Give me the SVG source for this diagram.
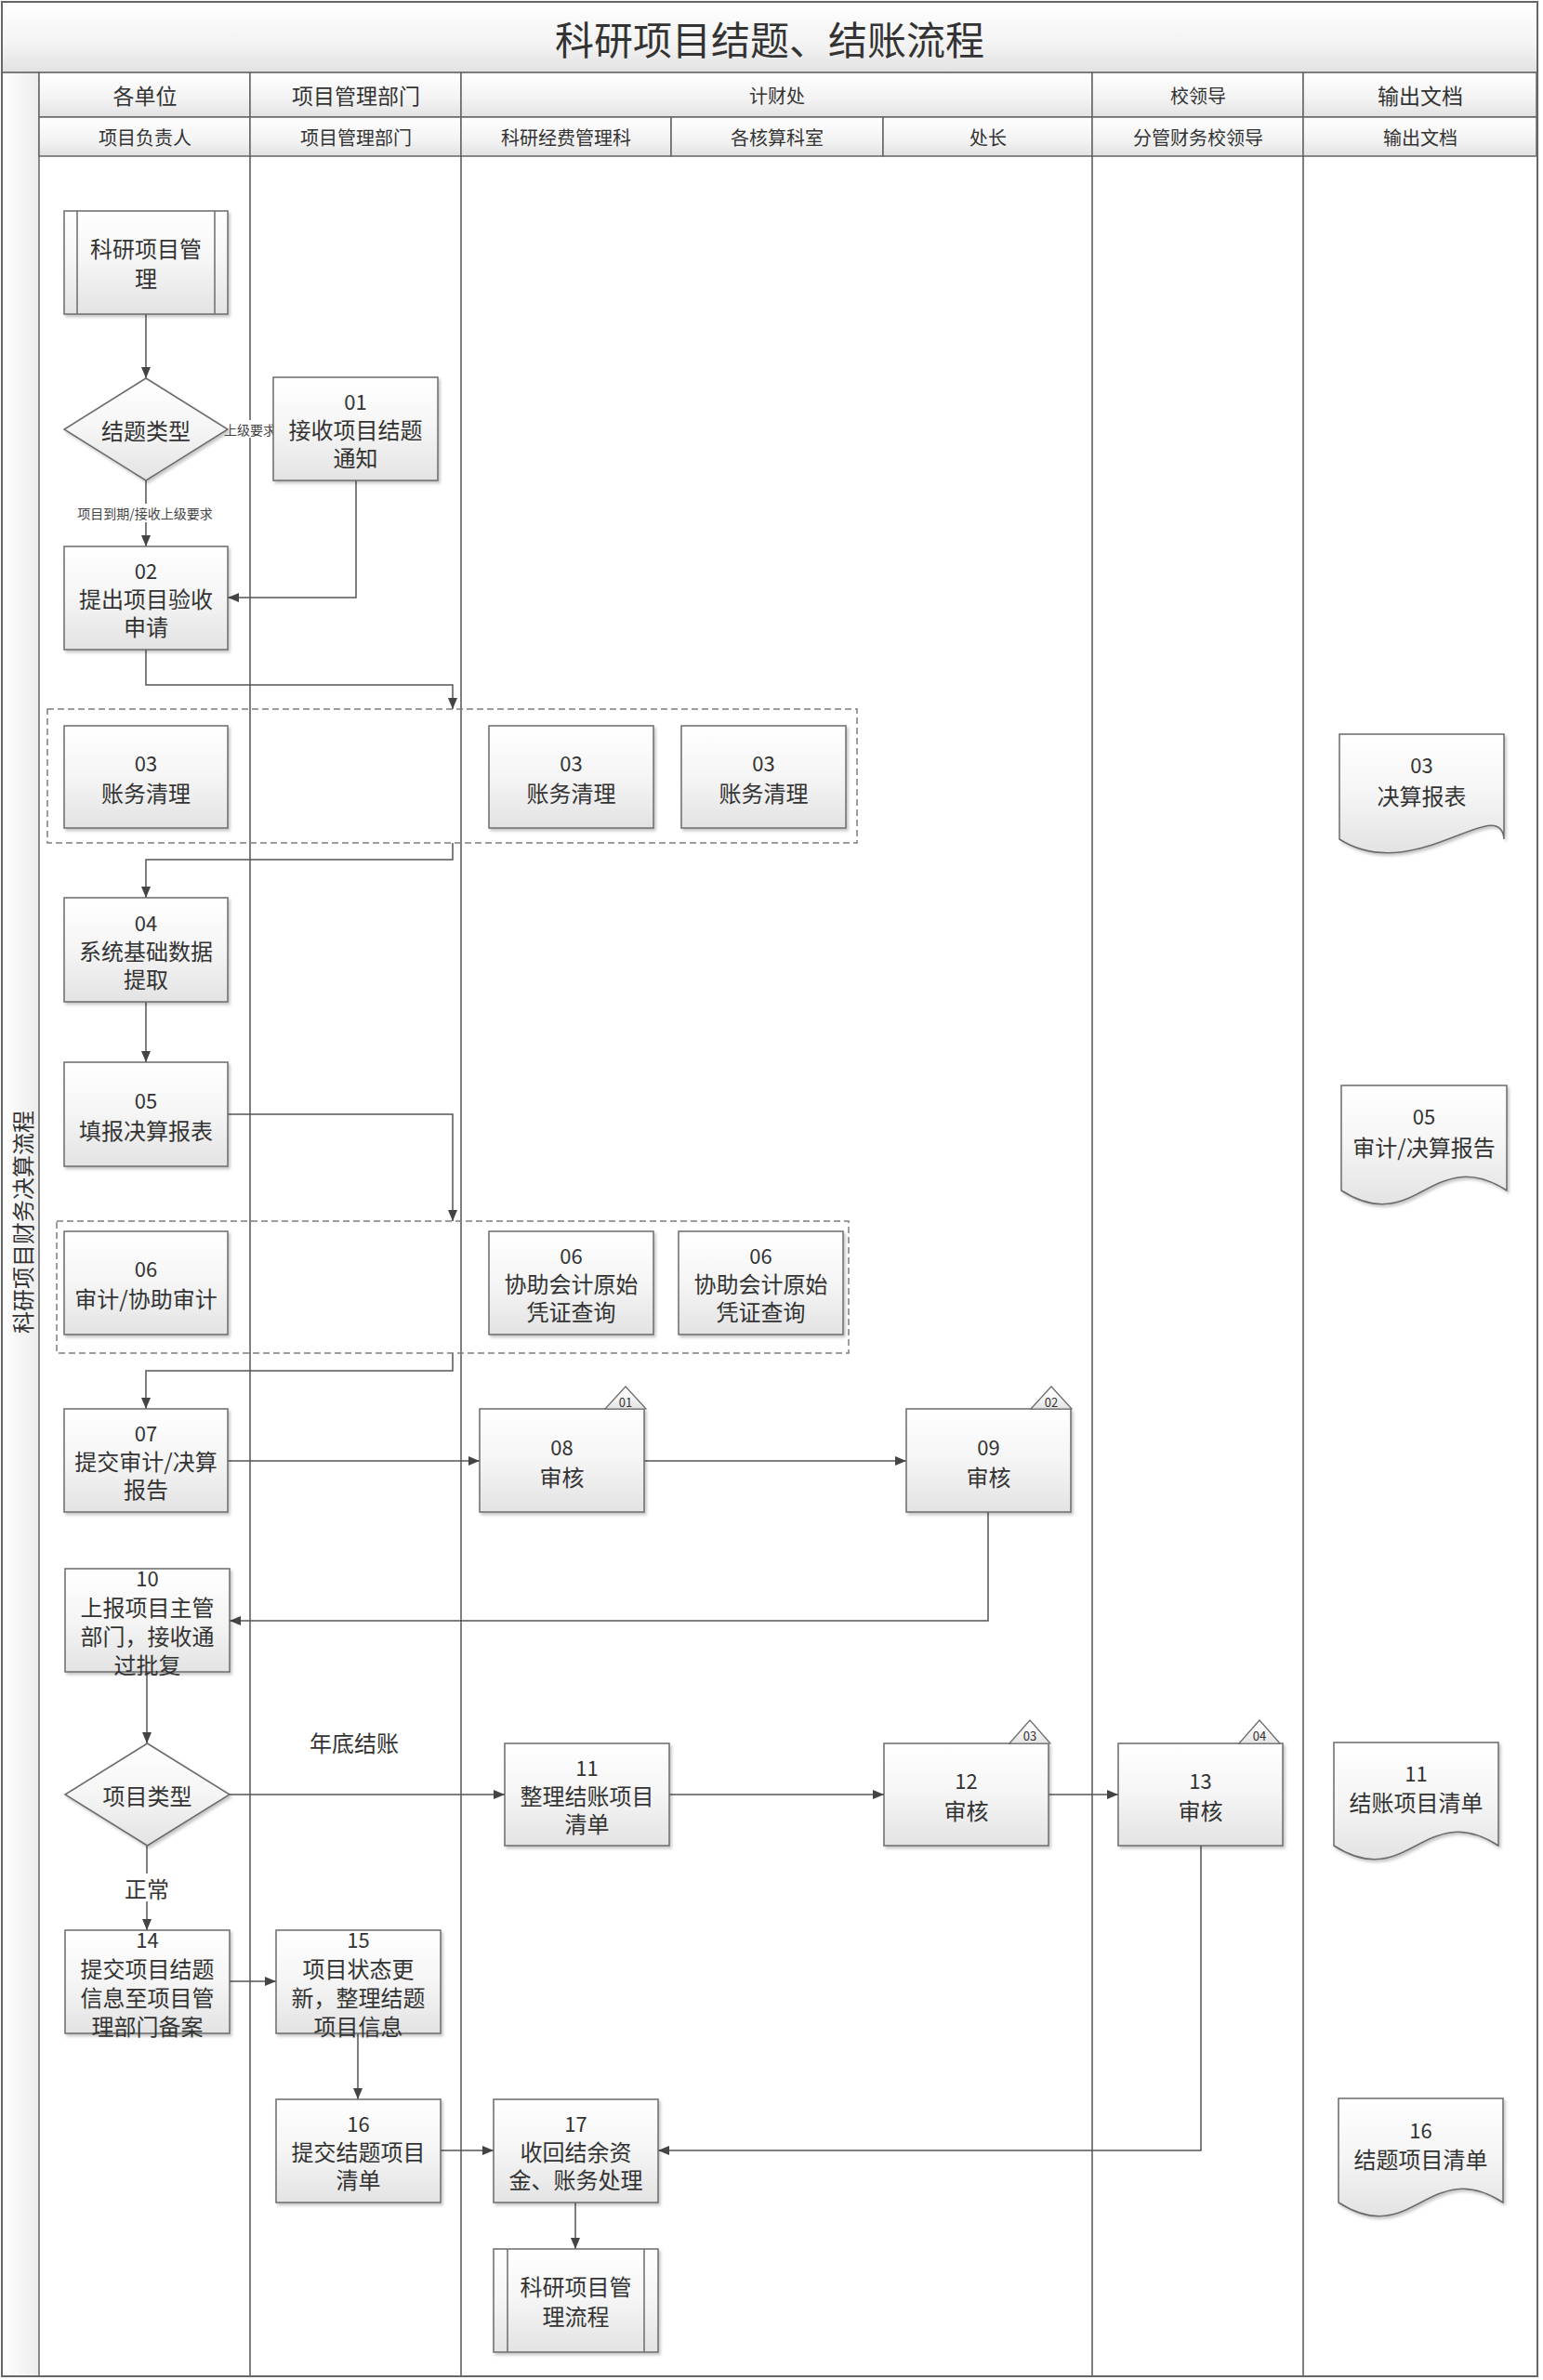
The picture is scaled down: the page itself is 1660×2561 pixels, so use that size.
<svg xmlns="http://www.w3.org/2000/svg" width="1660" height="2561" viewBox="0 0 1660 2561">
<defs>
<linearGradient id="gBox" x1="0" y1="0" x2="0" y2="1">
<stop offset="0" stop-color="#ffffff"/><stop offset="0.5" stop-color="#f5f5f5"/><stop offset="1" stop-color="#e3e3e3"/>
</linearGradient>
<linearGradient id="gHdr" x1="0" y1="0" x2="0" y2="1">
<stop offset="0" stop-color="#ffffff"/><stop offset="0.6" stop-color="#f3f3f3"/><stop offset="1" stop-color="#e2e2e2"/>
</linearGradient>
<linearGradient id="gBand" x1="0" y1="0" x2="1" y2="0">
<stop offset="0" stop-color="#ffffff"/><stop offset="1" stop-color="#ececec"/>
</linearGradient>
<filter id="sh" x="-10%" y="-10%" width="130%" height="130%">
<feDropShadow dx="2" dy="2.5" stdDeviation="1.5" flood-color="#000" flood-opacity="0.22"/>
</filter>
<marker id="arr" viewBox="0 0 12 10" refX="12" refY="5" markerWidth="12" markerHeight="10" markerUnits="userSpaceOnUse" orient="auto">
<path d="M0,0 L12,5 L0,10 z" fill="#444"/>
</marker>
<style>
.box{fill:url(#gBox);stroke:#6b6b6b;stroke-width:1.5;filter:url(#sh);}
.hdr{fill:url(#gHdr);stroke:#666;stroke-width:1.5;}
.t{font-family:"Noto Sans CJK SC","Noto Sans",sans-serif;font-size:24px;fill:#333;text-anchor:middle;dominant-baseline:central;}
.num{font-size:22px;}
.h1{font-size:23px;}
.h1s{font-size:20px;}
.h2{font-size:20px;}
.small{font-size:14px;fill:#444;}
.tag{font-size:13px;}
.conn{fill:none;stroke:#555;stroke-width:1.5;marker-end:url(#arr);}
.plain{fill:none;stroke:#555;stroke-width:1.5;}
.lane{stroke:#555;stroke-width:1.5;fill:none;}
.dash{fill:none;stroke:#7d7d7d;stroke-width:1.5;stroke-dasharray:7 4;}
.inner{stroke:#6b6b6b;stroke-width:1.5;}
.tri{fill:url(#gBox);stroke:#6b6b6b;stroke-width:1.2;}
</style>
</defs>

<rect x="0" y="0" width="1660" height="2561" fill="#ffffff"/>

<g id="frame">
<rect x="2" y="2" width="1652" height="76" class="hdr"/>
<text class="t" x="828" y="40" style="font-size:42px">科研项目结题、结账流程</text>
<rect x="2" y="78" width="40" height="2479" fill="url(#gBand)" stroke="#666" stroke-width="1.5"/>
<text class="t" transform="translate(23,1315) rotate(-90)" x="0" y="0">科研项目财务决算流程</text>
<rect x="42" y="78" width="227" height="48" class="hdr"/>
<rect x="269" y="78" width="227" height="48" class="hdr"/>
<rect x="496" y="78" width="679" height="48" class="hdr"/>
<rect x="1175" y="78" width="227" height="48" class="hdr"/>
<rect x="1402" y="78" width="251" height="48" class="hdr"/>
<text class="t h1" x="156" y="102">各单位</text>
<text class="t h1" x="383" y="102">项目管理部门</text>
<text class="t h1s" x="836" y="102">计财处</text>
<text class="t h1s" x="1289" y="102">校领导</text>
<text class="t h1" x="1528" y="102">输出文档</text>
<rect x="42" y="126" width="227" height="42" class="hdr"/>
<rect x="269" y="126" width="227" height="42" class="hdr"/>
<rect x="496" y="126" width="226" height="42" class="hdr"/>
<rect x="722" y="126" width="228" height="42" class="hdr"/>
<rect x="950" y="126" width="225" height="42" class="hdr"/>
<rect x="1175" y="126" width="227" height="42" class="hdr"/>
<rect x="1402" y="126" width="251" height="42" class="hdr"/>
<text class="t h2" x="156" y="147">项目负责人</text>
<text class="t h2" x="383" y="147">项目管理部门</text>
<text class="t h2" x="609" y="147">科研经费管理科</text>
<text class="t h2" x="836" y="147">各核算科室</text>
<text class="t h2" x="1063" y="147">处长</text>
<text class="t h2" x="1289" y="147">分管财务校领导</text>
<text class="t h2" x="1528" y="147">输出文档</text>
<line class="lane" x1="269" y1="168" x2="269" y2="2557"/>
<line class="lane" x1="496" y1="168" x2="496" y2="2557"/>
<line class="lane" x1="1175" y1="168" x2="1175" y2="2557"/>
<line class="lane" x1="1402" y1="168" x2="1402" y2="2557"/>
<rect x="2" y="2" width="1652" height="2555" fill="none" stroke="#666" stroke-width="2"/>
</g>

<g id="connectors">
<path class="conn" d="M157,338 V407"/>
<path class="conn" d="M157,517 V588"/>
<path class="plain" d="M245,462 H294"/>
<path class="conn" d="M383,517 V643 H245"/>
<path class="conn" d="M157,699 V737 H487 V763"/>
<path class="conn" d="M487,907 V925 H157 V966"/>
<path class="conn" d="M157,1078 V1143"/>
<path class="conn" d="M245,1199 H487 V1314"/>
<path class="conn" d="M487,1456 V1475 H157 V1516"/>
<path class="conn" d="M245,1572 H516"/>
<path class="conn" d="M693,1572 H975"/>
<path class="conn" d="M1063,1627 V1744 H247"/>
<path class="conn" d="M158,1799 V1876"/>
<path class="conn" d="M247,1931 H543"/>
<path class="conn" d="M720,1931 H951"/>
<path class="conn" d="M1128,1931 H1203"/>
<path class="conn" d="M1292,1986 V2314 H708"/>
<path class="conn" d="M158,1986 V2077"/>
<path class="conn" d="M247,2132 H297"/>
<path class="conn" d="M385,2188 V2259"/>
<path class="conn" d="M474,2314 H531"/>
<path class="conn" d="M619,2370 V2420"/>
<rect x="242" y="452" width="54" height="19" fill="#fff"/>
<text class="t small" x="269" y="462">上级要求</text>
<rect x="82" y="542" width="149" height="20" fill="#fff"/>
<text class="t small" x="156" y="552">项目到期/接收上级要求</text>
<text class="t" x="381" y="1874">年底结账</text>
<rect x="133" y="2016" width="50" height="30" fill="#fff"/>
<text class="t" x="158" y="2031">正常</text>
</g>

<g id="n_sub1">
<rect class="box" x="69" y="227" width="176" height="111"/>
<line class="inner" x1="83" y1="227" x2="83" y2="338"/><line class="inner" x1="231" y1="227" x2="231" y2="338"/>
<text class="t" x="157" y="266">科研项目管</text><text class="t" x="157" y="298">理</text>
</g>
<g id="n_dec1">
<polygon class="box" points="157,407 245,462 157,517 69,462"/>
<text class="t" x="157" y="462">结题类型</text>
</g>
<g id="n01">
<rect class="box" x="294" y="406" width="177" height="111"/>
<text class="t num" x="382.5" y="431">01</text><text class="t" x="382.5" y="461">接收项目结题</text><text class="t" x="382.5" y="491">通知</text>
</g>
<g id="n02">
<rect class="box" x="69" y="588" width="176" height="111"/>
<text class="t num" x="157" y="613">02</text><text class="t" x="157" y="643">提出项目验收</text><text class="t" x="157" y="673">申请</text>
</g>

<g id="g03">
<rect class="dash" x="51" y="763" width="871" height="144"/>
</g>
<g id="n03a">
<rect class="box" x="69" y="781" width="176" height="110"/>
<text class="t num" x="157" y="820">03</text><text class="t" x="157" y="852">账务清理</text>
</g>
<g id="n03b">
<rect class="box" x="526" y="781" width="177" height="110"/>
<text class="t num" x="614.5" y="820">03</text><text class="t" x="614.5" y="852">账务清理</text>
</g>
<g id="n03c">
<rect class="box" x="733" y="781" width="177" height="110"/>
<text class="t num" x="821.5" y="820">03</text><text class="t" x="821.5" y="852">账务清理</text>
</g>

<g id="n04">
<rect class="box" x="69" y="966" width="176" height="112"/>
<text class="t num" x="157" y="992">04</text><text class="t" x="157" y="1022">系统基础数据</text><text class="t" x="157" y="1052">提取</text>
</g>
<g id="n05">
<rect class="box" x="69" y="1143" width="176" height="112"/>
<text class="t num" x="157" y="1183">05</text><text class="t" x="157" y="1215">填报决算报表</text>
</g>

<g id="g06">
<rect class="dash" x="61" y="1314" width="852" height="142"/>
</g>
<g id="n06a">
<rect class="box" x="69" y="1325" width="176" height="111"/>
<text class="t num" x="157" y="1364">06</text><text class="t" x="157" y="1396">审计/协助审计</text>
</g>
<g id="n06b">
<rect class="box" x="526" y="1325" width="177" height="111"/>
<text class="t num" x="614.5" y="1350">06</text><text class="t" x="614.5" y="1380">协助会计原始</text><text class="t" x="614.5" y="1410">凭证查询</text>
</g>
<g id="n06c">
<rect class="box" x="730" y="1325" width="177" height="111"/>
<text class="t num" x="818.5" y="1350">06</text><text class="t" x="818.5" y="1380">协助会计原始</text><text class="t" x="818.5" y="1410">凭证查询</text>
</g>

<g id="n07">
<rect class="box" x="69" y="1516" width="176" height="111"/>
<text class="t num" x="157" y="1541">07</text><text class="t" x="157" y="1571">提交审计/决算</text><text class="t" x="157" y="1601">报告</text>
</g>
<g id="n08">
<rect class="box" x="516" y="1516" width="177" height="111"/>
<polygon class="tri" points="651,1516 673,1492 695,1516"/>
<text class="t tag" x="673" y="1508">01</text>
<text class="t num" x="604.5" y="1556">08</text><text class="t" x="604.5" y="1588">审核</text>
</g>
<g id="n09">
<rect class="box" x="975" y="1516" width="177" height="111"/>
<polygon class="tri" points="1109,1516 1131,1492 1153,1516"/>
<text class="t tag" x="1131" y="1508">02</text>
<text class="t num" x="1063.5" y="1556">09</text><text class="t" x="1063.5" y="1588">审核</text>
</g>

<g id="n10">
<rect class="box" x="70" y="1688" width="177" height="111"/>
<text class="t num" x="158.5" y="1697">10</text><text class="t" x="158.5" y="1728">上报项目主管</text><text class="t" x="158.5" y="1759">部门，接收通</text><text class="t" x="158.5" y="1790">过批复</text>
</g>
<g id="n_dec2">
<polygon class="box" points="158.5,1876 247,1931 158.5,1986 70,1931"/>
<text class="t" x="158.5" y="1931">项目类型</text>
</g>
<g id="n11">
<rect class="box" x="543" y="1876" width="177" height="110"/>
<text class="t num" x="631.5" y="1901">11</text><text class="t" x="631.5" y="1931">整理结账项目</text><text class="t" x="631.5" y="1961">清单</text>
</g>
<g id="n12">
<rect class="box" x="951" y="1876" width="177" height="110"/>
<polygon class="tri" points="1086,1876 1108,1851 1130,1876"/>
<text class="t tag" x="1108" y="1867">03</text>
<text class="t num" x="1039.5" y="1915">12</text><text class="t" x="1039.5" y="1947">审核</text>
</g>
<g id="n13">
<rect class="box" x="1203" y="1876" width="177" height="110"/>
<polygon class="tri" points="1333,1876 1355,1851 1377,1876"/>
<text class="t tag" x="1355" y="1867">04</text>
<text class="t num" x="1291.5" y="1915">13</text><text class="t" x="1291.5" y="1947">审核</text>
</g>

<g id="n14">
<rect class="box" x="70" y="2077" width="177" height="111"/>
<text class="t num" x="158.5" y="2086">14</text><text class="t" x="158.5" y="2117">提交项目结题</text><text class="t" x="158.5" y="2148">信息至项目管</text><text class="t" x="158.5" y="2179">理部门备案</text>
</g>
<g id="n15">
<rect class="box" x="297" y="2077" width="177" height="111"/>
<text class="t num" x="385.5" y="2086">15</text><text class="t" x="385.5" y="2117">项目状态更</text><text class="t" x="385.5" y="2148">新，整理结题</text><text class="t" x="385.5" y="2179">项目信息</text>
</g>
<g id="n16">
<rect class="box" x="297" y="2259" width="177" height="111"/>
<text class="t num" x="385.5" y="2284">16</text><text class="t" x="385.5" y="2314">提交结题项目</text><text class="t" x="385.5" y="2344">清单</text>
</g>
<g id="n17">
<rect class="box" x="531" y="2259" width="177" height="111"/>
<text class="t num" x="619.5" y="2284">17</text><text class="t" x="619.5" y="2314">收回结余资</text><text class="t" x="619.5" y="2344">金、账务处理</text>
</g>
<g id="n_sub2">
<rect class="box" x="531" y="2420" width="177" height="111"/>
<line class="inner" x1="546" y1="2420" x2="546" y2="2531"/><line class="inner" x1="693" y1="2420" x2="693" y2="2531"/>
<text class="t" x="619.5" y="2459">科研项目管</text><text class="t" x="619.5" y="2491">理流程</text>
</g>

<g id="d03">
<path class="box" d="M1441,790 H1618 V903 C1614.4,852 1520.6,954 1441,903 Z"/>
<text class="t num" x="1529.5" y="822">03</text><text class="t" x="1529.5" y="855">决算报表</text>
</g>
<g id="d05">
<path class="box" d="M1443,1168 H1621 V1281 C1540.9,1230 1523.1,1332 1443,1281 Z"/>
<text class="t num" x="1532" y="1200">05</text><text class="t" x="1532" y="1233">审计/决算报告</text>
</g>
<g id="d11">
<path class="box" d="M1435,1875 H1612 V1986 C1532.4,1935 1514.6,2037 1435,1986 Z"/>
<text class="t num" x="1523.5" y="1907">11</text><text class="t" x="1523.5" y="1938">结账项目清单</text>
</g>
<g id="d16">
<path class="box" d="M1440,2258 H1617 V2370 C1537.4,2319 1519.6,2421 1440,2370 Z"/>
<text class="t num" x="1528.5" y="2291">16</text><text class="t" x="1528.5" y="2322">结题项目清单</text>
</g>
</svg>
